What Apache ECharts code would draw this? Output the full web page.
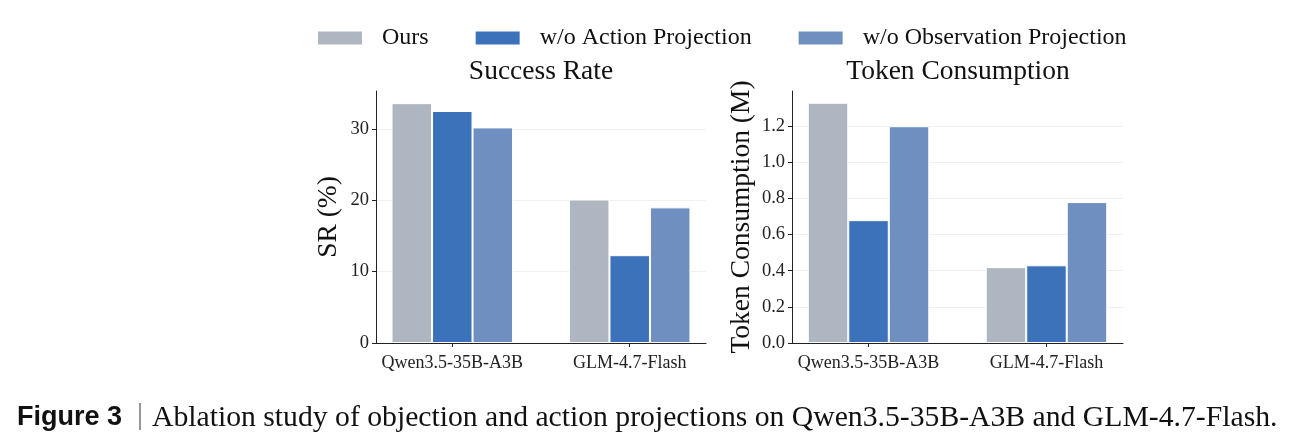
<!DOCTYPE html>
<html>
<head>
<meta charset="utf-8">
<script src="https://cdn.jsdelivr.net/npm/echarts@6/dist/echarts.min.js"></script>
<style>
  html, body { margin: 0; padding: 0; background: #fff; }
  #main { width: 1297px; height: 448px; }
</style>
</head>
<body>
<div id="main"></div>
<script>
// 数据
var models = ['Qwen3.5-35B-A3B', 'GLM-4.7-Flash'];
var seriesNames = ['Ours', 'w/o Action Projection', 'w/o Observation Projection'];
var srOurs = [33.6, 20.1];
var srNoAction = [32.5, 12.3];
var srNoObs = [30.2, 19.0];
var tokOurs = [1.33, 0.42];
var tokNoAction = [0.68, 0.43];
var tokNoObs = [1.20, 0.78];
var srTicks = [0, 10, 20, 30];
var tokTicks = [0, 0.2, 0.4, 0.6, 0.8, 1.0, 1.2];

var colors = ['#adb6c1', '#3b72b9', '#6f8fc0'];
var serif = '"Liberation Serif", "DejaVu Serif", serif';

var toPts = function (arr) {
	return arr.map(function (v, i) { return [i, v]; });
};

var xAxisOf = function (idx) {
	return {
		type: 'value',
		gridIndex: idx,
		min: -0.43,
		max: 1.43,
		splitLine: {show: false},
		axisLine: {onZero: false, lineStyle: {color: '#222', width: 1}},
		axisTick: {show: true, customValues: [0, 1], length: 4, lineStyle: {color: '#222'}},
		axisLabel: {
			customValues: [0, 1],
			color: '#222',
			fontFamily: serif,
			fontSize: 18,
			margin: 11,
			formatter: function (v) { return models[Math.round(v)]; }
		}
	};
};

var yAxisOf = function (idx, name, max, interval, ticks, digits, gap) {
	return {
		type: 'value',
		gridIndex: idx,
		min: 0,
		max: max,
		interval: interval,
		name: name,
		nameLocation: 'middle',
		nameGap: gap,
		nameTextStyle: {fontFamily: serif, fontSize: 27.5, color: '#111'},
		axisLine: {show: true, onZero: false, lineStyle: {color: '#222', width: 1}},
		axisTick: {show: true, customValues: ticks, length: 4, lineStyle: {color: '#222'}},
		axisLabel: {
			customValues: ticks,
			color: '#222',
			fontFamily: serif,
			fontSize: 18.5,
			margin: 7,
			formatter: function (v) { return digits ? v.toFixed(digits) : String(v); }
		},
		splitLine: {show: true, lineStyle: {color: '#f0f0f0', width: 1}}
	};
};

var barSeries = function (name, data, color, idx) {
	return {
		name: name,
		type: 'bar',
		xAxisIndex: idx,
		yAxisIndex: idx,
		barWidth: 40.5,
		barGap: '0%',
		itemStyle: {color: color, borderColor: '#fff', borderWidth: 1},
		data: toPts(data)
	};
};

var chart = echarts.init(document.getElementById('main'));
chart.setOption({
	animation: false,
	backgroundColor: '#fff',
	color: colors,
	legend: {
		top: 21,
		left: 311,
		itemWidth: 46,
		itemHeight: 15,
		itemGap: 45,
		icon: 'rect',
		textStyle: {fontFamily: serif, fontSize: 24, color: '#111', padding: [0, 0, 0, 14]},
		data: seriesNames
	},
	grid: [
		{left: 376, top: 91, width: 330, height: 252},
		{left: 792, top: 91, width: 331, height: 252}
	],
	xAxis: [xAxisOf(0), xAxisOf(1)],
	yAxis: [
		yAxisOf(0, 'SR (%)', 35.3, 10, srTicks, 0, 33),
		yAxisOf(1, 'Token Consumption (M)', 1.395, 0.2, tokTicks, 1, 36)
	],
	series: [
		barSeries(seriesNames[0], srOurs, colors[0], 0),
		barSeries(seriesNames[1], srNoAction, colors[1], 0),
		barSeries(seriesNames[2], srNoObs, colors[2], 0),
		barSeries(seriesNames[0], tokOurs, colors[0], 1),
		barSeries(seriesNames[1], tokNoAction, colors[1], 1),
		barSeries(seriesNames[2], tokNoObs, colors[2], 1)
	],
	graphic: [
		{type: 'text', x: 541, y: 72, style: {text: 'Success Rate', font: '27.5px ' + serif, fill: '#111', align: 'center', verticalAlign: 'middle'}},
		{type: 'text', x: 958, y: 72, style: {text: 'Token Consumption', font: '27.5px ' + serif, fill: '#111', align: 'center', verticalAlign: 'middle'}},
		{type: 'text', x: 17, y: 418, style: {text: 'Figure 3', font: 'bold 27px "Liberation Sans", Arial, sans-serif', fill: '#111', verticalAlign: 'middle'}},
		{type: 'rect', shape: {x: 139.5, y: 403, width: 1, height: 27}, style: {fill: '#333'}},
		{type: 'text', x: 152, y: 418, style: {text: 'Ablation study of objection and action projections on Qwen3.5-35B-A3B and GLM-4.7-Flash.', font: '29.7px ' + serif, fill: '#111', verticalAlign: 'middle'}}
	]
});
</script>
</body>
</html>
